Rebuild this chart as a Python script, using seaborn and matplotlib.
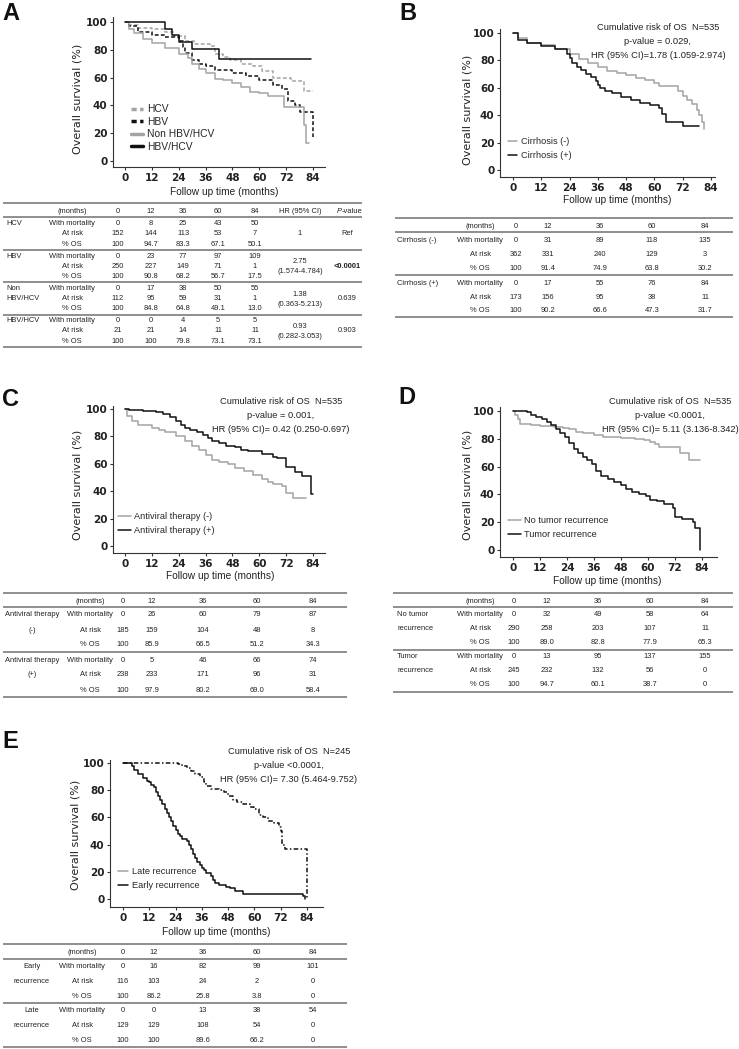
import matplotlib.pyplot as plt
from matplotlib import font_manager
from matplotlib.lines import Line2D
import seaborn as sns

sns.set_style("ticks")
plt.rcParams['font.family'] = ['Liberation Sans', 'DejaVu Sans']

# narrow Arial-like face for tables / notes if the box has it
names = {f.name for f in font_manager.fontManager.ttflist}
NARROW = 'Liberation Sans Narrow' in names
NFONT = ['Liberation Sans Narrow', 'Liberation Sans'] if NARROW else ['Liberation Sans']
TAB_FS = 6 if NARROW else 5.4
NOTE_FS = 8 if NARROW else 6.7
LEG_FS = 8 if NARROW else 6.6
XLAB_FS = 8.8 if NARROW else 7.3

GREY = '#a3a3a3'
BLACK = '#111111'
LINE = '#707070'

# ---------------- curves (months, % alive) ----------------
a_hcv_t = [0, 2, 6, 12, 18, 22, 27, 31, 38, 40, 44, 47, 52, 57, 61, 66, 74, 80, 84]
a_hcv_s = [100, 98, 96, 94.7, 93, 90, 86, 84, 82.5, 77, 75, 73, 70, 68, 65, 60, 57.5, 50.5, 50.5]
a_hbv_t = [0, 2, 6, 12, 18, 24, 26, 27, 30, 33, 36, 40, 48, 54, 60, 66, 70, 73, 76, 78, 84]
a_hbv_s = [100, 97, 93, 90.8, 89, 86, 82, 78, 73, 70, 68.2, 65.5, 63, 61, 58.4, 55, 52, 43, 40, 35, 17]
a_non_t = [0, 2, 4, 8, 12, 18, 24, 28, 30, 33, 36, 40, 44, 48, 52, 56, 60, 64, 71, 80, 81, 82]
a_non_s = [100, 95, 92, 88, 84.8, 81, 77, 74, 70, 66, 63, 59, 58, 56, 53, 50, 49, 47, 39, 26, 13, 13]
a_both_t = [0, 18, 21, 24, 30, 42, 83]
a_both_s = [100, 95.2, 90.5, 85.7, 80.5, 73.1, 73.1]

b_neg_t = [0, 2, 6, 12, 18, 24, 28, 32, 36, 40, 44, 48, 52, 56, 60, 62, 69, 70, 72, 74, 76, 78, 79, 80, 81]
b_neg_s = [100, 96, 93, 91.4, 88.5, 85, 81, 78, 75, 72, 70.5, 69, 67, 65.5, 63.8, 61, 61, 58, 54, 51, 48, 44, 40, 35, 30]
b_pos_t = [0, 2, 6, 12, 18, 23, 24, 25, 27, 29, 31, 33, 35, 36, 37, 39, 42, 46, 50, 54, 58, 62, 63, 65, 72, 79]
b_pos_s = [100, 95, 92.5, 90.2, 88, 85, 82, 78, 75, 73, 70, 68, 65, 62, 60, 58, 56, 53, 51, 49, 47.3, 45, 41, 35, 32, 32]

c_neg_t = [0, 1, 3, 6, 12, 15, 18, 23, 27, 30, 33, 36, 39, 42, 46, 49, 53, 57, 61, 64, 66, 70, 72, 75, 81]
c_neg_s = [100, 95, 91, 88, 85.9, 85, 83, 80, 77, 73, 70, 66.5, 63, 61, 60, 57, 55, 52, 49, 47, 45, 44, 39, 35, 35]
c_pos_t = [0, 2, 8, 14, 17, 20, 23, 25, 27, 29, 32, 35, 37, 39, 42, 45, 49, 52, 55, 61, 66, 68, 72, 76, 79, 83, 84]
c_pos_s = [100, 99, 98.5, 97.5, 96, 94, 91.5, 88, 86, 85, 83, 81, 79, 77, 75, 73, 72, 70, 69, 67, 65, 64, 58, 54, 51, 38, 38]

d_no_t = [0, 1, 2, 3, 8, 12, 18, 22, 25, 28, 31, 36, 40, 48, 54, 58, 61, 63, 65, 74, 78, 83]
d_no_s = [100, 97, 94, 91, 90, 89, 88.5, 88, 87, 85, 84, 83, 81, 80.5, 80, 79, 77.5, 76, 74, 70, 65, 65]
d_yes_t = [0, 6, 8, 10, 13, 15, 17, 19, 21, 23, 25, 27, 29, 31, 33, 35, 37, 39, 42, 45,
           48, 50, 53, 56, 59, 61, 64, 67, 71, 72, 75, 80, 81, 83]
d_yes_s = [100, 99, 97, 95.5, 94, 92, 90, 87, 84, 81, 77, 73, 70, 67, 65, 62, 57, 53, 51, 49,
           47, 44, 42, 40, 38.5, 36, 35, 33, 30, 24, 22.5, 20, 16, 0]

e_early_t = [0, 4, 5, 7, 9, 11, 12, 13, 14, 15, 16, 17, 18, 19, 20, 21, 22, 23, 24, 25, 26, 27,
             29, 30, 31, 32, 33, 34, 35, 36, 37, 38, 40, 41, 42, 44, 47, 49, 51, 55, 81, 82, 83]
e_early_s = [100, 98, 95, 92, 89, 87, 86, 84, 82, 79, 76, 73, 70, 66, 63, 60, 57, 54, 51, 48, 46, 44,
             43, 40, 37, 33, 30, 27, 25, 23, 21, 19, 17, 14, 12, 10, 9, 8, 6, 4, 4, 2, 0]
e_late_t = [0, 23, 25, 27, 29, 31, 33, 35, 37, 38, 40, 44, 46, 48, 50, 52, 55, 58, 60, 62, 64, 66,
            69, 71, 72, 72.6, 74, 84]
e_late_s = [100, 100, 99, 98, 96, 94, 92, 90, 86, 83, 81, 80, 79, 76, 73, 71, 70, 68, 66, 62, 60, 57,
            56, 53, 50, 40, 37, 0]

# ---------------- tables ----------------
tab_months = ["0", "12", "36", "60", "84"]
row_names = ["With mortality", "At risk", "% OS"]

a_groups = [["HCV"], ["HBV"], ["Non", "HBV/HCV"], ["HBV/HCV"]]
a_mort = [[0, 8, 25, 43, 50], [0, 23, 77, 97, 109], [0, 17, 38, 50, 55], [0, 0, 4, 5, 5]]
a_risk = [[152, 144, 113, 53, 7], [250, 227, 149, 71, 1], [112, 95, 59, 31, 1], [21, 21, 14, 11, 11]]
a_os = [["100", "94.7", "83.3", "67.1", "50.1"], ["100", "90.8", "68.2", "56.7", "17.5"],
        ["100", "84.8", "64.8", "49.1", "13.0"], ["100", "100", "79.8", "73.1", "73.1"]]
a_hr = [["1"], ["2.75", "(1.574-4.784)"], ["1.38", "(0.363-5.213)"], ["0.93", "(0.282-3.053)"]]
a_p = ["Ref", "<0.0001", "0.639", "0.903"]

b_groups = [["Cirrhosis (-)"], ["Cirrhosis (+)"]]
b_mort = [[0, 31, 89, 118, 135], [0, 17, 55, 76, 84]]
b_risk = [[362, 331, 240, 129, 3], [173, 156, 95, 38, 11]]
b_os = [["100", "91.4", "74.9", "63.8", "30.2"], ["100", "90.2", "66.6", "47.3", "31.7"]]

c_groups = [["Antiviral therapy", "(-)"], ["Antiviral therapy", "(+)"]]
c_mort = [[0, 26, 60, 79, 87], [0, 5, 46, 66, 74]]
c_risk = [[185, 159, 104, 48, 8], [238, 233, 171, 96, 31]]
c_os = [["100", "85.9", "66.5", "51.2", "34.3"], ["100", "97.9", "80.2", "69.0", "58.4"]]

d_groups = [["No tumor", "recurrence"], ["Tumor", "recurrence"]]
d_mort = [[0, 32, 49, 58, 64], [0, 13, 95, 137, 155]]
d_risk = [[290, 258, 203, 107, 11], [245, 232, 132, 56, 0]]
d_os = [["100", "89.0", "82.8", "77.9", "65.3"], ["100", "94.7", "60.1", "38.7", "0"]]

e_groups = [["Early", "recurrence"], ["Late", "recurrence"]]
e_mort = [[0, 16, 82, 99, 101], [0, 0, 13, 38, 54]]
e_risk = [[116, 103, 24, 2, 0], [129, 129, 108, 54, 0]]
e_os = [["100", "86.2", "25.8", "3.8", "0"], ["100", "100", "89.6", "66.2", "0"]]

notes_b = ["Cumulative risk of OS  N=535", "p-value = 0.029,", "HR (95% CI)=1.78 (1.059-2.974)"]
notes_c = ["Cumulative risk of OS  N=535", "p-value = 0.001,", "HR (95% CI)= 0.42 (0.250-0.697)"]
notes_d = ["Cumulative risk of OS  N=535", "p-value <0.0001,", "HR (95% CI)= 5.11 (3.136-8.342)"]
notes_e = ["Cumulative risk of OS  N=245", "p-value <0.0001,", "HR (95% CI)= 7.30 (5.464-9.752)"]

W, H = 739, 1049
fig = plt.figure(figsize=(W / 100, H / 100), dpi=100)

# whole-figure layer in pixel units for letters and tables
ov = fig.add_axes([0, 0, 1, 1])
ov.set_xlim(0, W)
ov.set_ylim(H, 0)
ov.axis('off')


def km_axes(box, ticks_px, ylab_xy, xlab_xy):
    left, top, right, bottom = box
    x0, x84, y100, y0 = ticks_px
    ax = fig.add_axes([left / W, 1 - bottom / H, (right - left) / W, (bottom - top) / H])
    kx = (x84 - x0) / 84
    ky = (y0 - y100) / 100
    ax.set_xlim((left - x0) / kx, (right - x0) / kx)
    ax.set_ylim((y0 - bottom) / ky, (y0 - top) / ky)
    ax.set_xticks(range(0, 85, 12))
    ax.set_yticks(range(0, 101, 20))
    sns.despine(ax=ax)
    for s in ['left', 'bottom']:
        ax.spines[s].set_linewidth(0.8)
        ax.spines[s].set_color('#333333')
    ax.tick_params(length=2.5, width=0.8, pad=1.5, labelsize=7.5, color='#333333')
    for lbl in ax.get_xticklabels() + ax.get_yticklabels():
        lbl.set_family('DejaVu Sans')
        lbl.set_fontweight('bold')
        lbl.set_color('#222222')
    ax.set_ylabel('Overall survival (%)', family='DejaVu Sans', fontsize=8, color='#222222')
    ax.yaxis.set_label_coords(*ylab_xy, transform=ov.transData)
    ax.set_xlabel('Follow up time (months)', family=NFONT, fontsize=XLAB_FS, color='#222222')
    ax.xaxis.set_label_coords(*xlab_xy, transform=ov.transData)
    ax.patch.set_alpha(0)
    return ax


def km(ax, t, s, color, ls='-', lw=1.1):
    sns.lineplot(x=t, y=s, ax=ax, drawstyle='steps-post', color=color, linestyle=ls,
                 linewidth=lw, estimator=None, sort=False, legend=False)


def legend(ax, items, xy, fs, spacing, hlen, lw=1.1):
    handles = [Line2D([], [], color=c, linestyle=ls, linewidth=lw) for c, ls, _ in items]
    ax.legend(handles, [lab for _, _, lab in items], loc='center left',
              bbox_to_anchor=(xy[0] / W, 1 - xy[1] / H), bbox_transform=fig.transFigure,
              frameon=False, prop={'family': NFONT if fs != 7.4 else ['Liberation Sans'], 'size': fs},
              handlelength=hlen, handletextpad=0.4, labelspacing=spacing,
              borderpad=0, borderaxespad=0)


def notes(lines, x, ys):
    for txt, y in zip(lines, ys):
        ov.text(x, y, txt, ha='center', va='center', family=NFONT, fontsize=NOTE_FS, color='#222222')


def tcell(x, y, s, ha='center', **kw):
    ov.text(x, y, str(s), ha=ha, va='center', family=NFONT, fontsize=TAB_FS, color='#222222', **kw)


def table(groups, mort, risk, os_, x0, x1, top, block, offs, name_x, cols, grp_x, grp_ha,
          head=14, hr=None, pv=None, hr_x=None, p_x=None):
    ov.hlines(top, x0, x1, color=LINE, lw=1.1)
    tcell(name_x, top + 8.5, "(months)")
    for x, m in zip(cols, tab_months):
        tcell(x, top + 8.5, m)
    if hr is not None:
        tcell(hr_x, top + 8.5, "HR (95% CI)")
        tcell(p_x - 5, top + 8.5, "P", ha='right', style='italic')
        tcell(p_x - 5, top + 8.5, "-value", ha='left')
    line_y = top + head
    ov.hlines(line_y, x0, x1, color=LINE, lw=1.1)
    for g in range(len(groups)):
        base = line_y + g * block
        for r, vals in enumerate([mort[g], risk[g], os_[g]]):
            y = base + offs[r]
            tcell(name_x, y, row_names[r])
            for x, v in zip(cols, vals):
                tcell(x, y, v)
        for k, gname in enumerate(groups[g]):
            tcell(grp_x, base + offs[k], gname, ha=grp_ha)
        if hr is not None:
            mid = base + offs[1]
            if len(hr[g]) == 1:
                tcell(hr_x, mid, hr[g][0])
            else:
                tcell(hr_x, mid - 4.5, hr[g][0])
                tcell(hr_x, mid + 5.5, hr[g][1])
            tcell(p_x, mid, pv[g], fontweight='bold' if pv[g].startswith('<') else 'normal')
        ov.hlines(base + block, x0, x1, color=LINE, lw=1.1)


# panel letters
for letter, x, y in [('A', 2, 13), ('B', 399, 14), ('C', 2, 399), ('D', 398, 397), ('E', 2, 742)]:
    ov.text(x, y, letter, ha='left', va='center', fontsize=17, fontweight='bold', color='#111111')

# ---- A
axA = km_axes((113, 17, 325, 167), (125, 313, 22, 161), (82, 99), (224, 187))
km(axA, a_hcv_t, a_hcv_s, GREY, (0, (2.5, 1.5)))
km(axA, a_hbv_t, a_hbv_s, BLACK, (0, (2.5, 1.5)))
km(axA, a_non_t, a_non_s, GREY)
km(axA, a_both_t, a_both_s, BLACK)
legend(axA, [(GREY, (0, (1.5, 1)), 'HCV'), (BLACK, (0, (1.5, 1)), 'HBV'),
             (GREY, '-', 'Non HBV/HCV'), (BLACK, '-', 'HBV/HCV')],
       (131, 128), 7.4, 0.25, 1.2, lw=2.5)
table(a_groups, a_mort, a_risk, a_os, 3, 362, 203, 32.5, [6.5, 16.5, 27], 72,
      [118, 151, 183, 218, 255], 6, 'left', hr=a_hr, pv=a_p, hr_x=300, p_x=347)

# ---- B
axB = km_axes((500, 29, 715, 177), (513, 711, 33, 170), (472, 110), (617, 195))
km(axB, b_neg_t, b_neg_s, GREY)
km(axB, b_pos_t, b_pos_s, BLACK)
legend(axB, [(GREY, '-', 'Cirrhosis (-)'), (BLACK, '-', 'Cirrhosis (+)')], (508, 148.5), LEG_FS, 0.55, 1.0)
notes(notes_b, 658, [28, 41.5, 55])
table(b_groups, b_mort, b_risk, b_os, 395, 733, 218, 42.5, [9, 23, 36], 480,
      [516, 548, 600, 652, 705], 397, 'left')

# ---- C
axC = km_axes((113, 406, 325, 553), (125, 313, 409, 546), (82, 485), (220, 571))
km(axC, c_neg_t, c_neg_s, GREY)
km(axC, c_pos_t, c_pos_s, BLACK)
legend(axC, [(GREY, '-', 'Antiviral therapy (-)'), (BLACK, '-', 'Antiviral therapy (+)')],
       (118, 523.5), LEG_FS, 0.55, 1.4)
notes(notes_c, 281, [402, 415.5, 429])
table(c_groups, c_mort, c_risk, c_os, 3, 347, 593, 45, [8, 23, 38], 90,
      [123, 152, 203, 257, 313], 32, 'center')

# ---- D
axD = km_axes((500, 407, 717, 557), (513, 702, 411, 550), (472, 485), (607, 576))
km(axD, d_no_t, d_no_s, GREY)
km(axD, d_yes_t, d_yes_s, BLACK)
legend(axD, [(GREY, '-', 'No tumor recurrence'), (BLACK, '-', 'Tumor recurrence')],
       (508, 527.5), LEG_FS, 0.55, 1.4)
notes(notes_d, 670, [401, 415, 429])
table(d_groups, d_mort, d_risk, d_os, 393, 733, 593, 42.5, [7, 21, 35], 480,
      [514, 547, 598, 650, 705], 397, 'left')

# ---- E
axE = km_axes((110, 760, 323, 907), (123, 307, 763, 899), (80, 835), (216, 927))
km(axE, e_late_t, e_late_s, BLACK, (0, (3, 1.5, 1, 1.5)))
km(axE, e_early_t, e_early_s, BLACK)
legend(axE, [(GREY, '-', 'Late recurrence'), (BLACK, '-', 'Early recurrence')],
       (118, 878.5), LEG_FS, 0.55, 1.1)
notes(notes_e, 289, [752, 765.5, 779])
table(e_groups, e_mort, e_risk, e_os, 3, 347, 944, 44, [7.5, 22.5, 37.5], 82,
      [123, 154, 203, 257, 313], 32, 'center', head=15)

fig.savefig('out.png', dpi=100)
